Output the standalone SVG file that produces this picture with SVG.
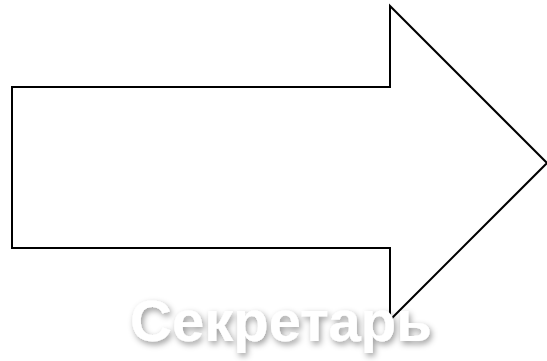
<svg xmlns="http://www.w3.org/2000/svg" width="547" height="361" viewBox="0 0 547 361">
  <defs>
    <style>
      .arrow { fill: #ffffff; stroke: #000000; stroke-width: 2; stroke-linejoin: miter; }
      .title { font-family: "Liberation Sans", Arial, sans-serif; font-weight: bold; font-size: 58px; fill: #ffffff; }
    </style>
    <filter id="shadow" x="-10%" y="-30%" width="120%" height="170%">
      <feDropShadow dx="2" dy="3" stdDeviation="3" flood-color="#000000" flood-opacity="0.4"/>
    </filter>
  </defs>
  <rect width="547" height="361" fill="#ffffff"/>
  <g id="arrow">
    <polygon class="arrow" points="12,87 390,87 390,6 547,163 390,320 390,248 12,248"/>
  </g>
  <g id="label">
    <text class="title" x="281" y="341" text-anchor="middle" filter="url(#shadow)">Секретарь</text>
  </g>
</svg>
